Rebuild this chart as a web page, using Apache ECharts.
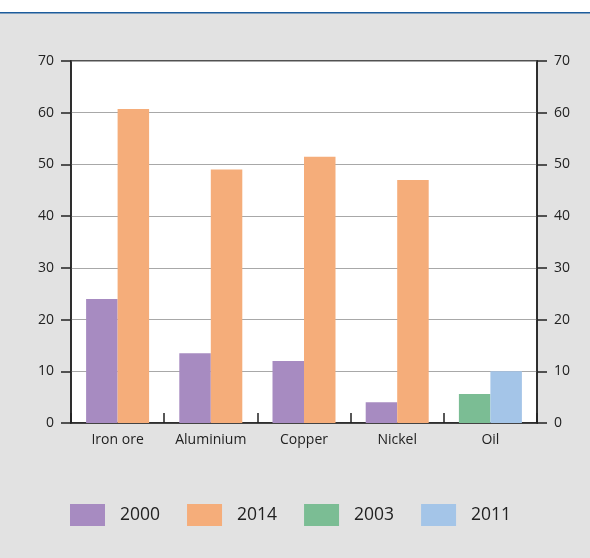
<!DOCTYPE html>
<html>
<head>
<meta charset="utf-8">
<script src="https://cdn.jsdelivr.net/npm/echarts@6/dist/echarts.min.js"></script>
<style>
  html, body { margin: 0; padding: 0; background: #e2e2e2; }
  #chart { width: 590px; height: 558px; }
</style>
</head>
<body>
<div id="chart"></div>
<script>
// Commodity categories and values per year
const categories = ['Iron ore', 'Aluminium', 'Copper', 'Nickel', 'Oil'];
const values2000 = [24, 13.5, 12, 4, null];
const values2014 = [60.7, 49, 51.5, 47, null];
const values2003 = [null, null, null, null, 5.6];
const values2011 = [null, null, null, null, 10];
const yTicks = [0, 10, 20, 30, 40, 50, 60, 70];

const colors = {
  '2000': '#a78bc1',
  '2014': '#f5ad7a',
  '2003': '#7bbd94',
  '2011': '#a4c5e8'
};

const FONT = '"Open Sans", "Noto Sans", sans-serif';
const TEXT = '#222222';

const chart = echarts.init(document.getElementById('chart'), null, { renderer: 'canvas' });

function valueAxis(position) {
  return {
    type: 'value',
    position: position,
    min: yTicks[0],
    max: yTicks[yTicks.length - 1],
    interval: 10,
    axisLine: { show: true, lineStyle: { color: TEXT, width: 1.5 } },
    axisTick: { show: true, inside: false, length: 10, lineStyle: { color: TEXT, width: 1.5 } },
    axisLabel: { margin: 17, color: TEXT, fontSize: 14, fontFamily: FONT },
    splitLine: { show: position === 'left', lineStyle: { color: '#a8a8a8', width: 1.2 } }
  };
}

function barSeries(name, data, stack) {
  return {
    name: name,
    type: 'bar',
    stack: stack,
    data: data,
    barWidth: 31.5,
    barGap: '0%',
    itemStyle: { color: colors[name] }
  };
}

chart.setOption({
  backgroundColor: '#e2e2e2',
  animation: false,
  graphic: [
    { type: 'rect', shape: { x: 0, y: 0, width: 590, height: 12 }, style: { fill: '#ffffff' }, z: 100 },
    { type: 'rect', shape: { x: 0, y: 12, width: 590, height: 1.6 }, style: { fill: '#1d5c9c' }, z: 100 }
  ],
  grid: {
    left: 71, right: 53, top: 61, bottom: 135,
    show: true,
    backgroundColor: '#ffffff',
    borderColor: TEXT,
    borderWidth: 1.5
  },
  legend: {
    left: 70,
    top: 504,
    padding: 0,
    itemWidth: 35,
    itemHeight: 22,
    itemGap: 27,
    icon: 'rect',
    data: ['2000', '2014', '2003', '2011'],
    textStyle: { color: TEXT, fontSize: 17.5, fontFamily: FONT, padding: [0, 0, 0, 10] }
  },
  xAxis: {
    type: 'category',
    data: categories,
    axisLine: { show: true, lineStyle: { color: TEXT, width: 1.5 } },
    axisTick: { show: true, inside: true, length: 10, lineStyle: { color: TEXT, width: 1.5 } },
    axisLabel: { margin: 10, color: TEXT, fontSize: 14, fontFamily: FONT }
  },
  yAxis: [valueAxis('left'), valueAxis('right')],
  series: [
    barSeries('2000', values2000, 'first'),
    barSeries('2014', values2014, 'second'),
    barSeries('2003', values2003, 'first'),
    barSeries('2011', values2011, 'second')
  ]
});
</script>
</body>
</html>
